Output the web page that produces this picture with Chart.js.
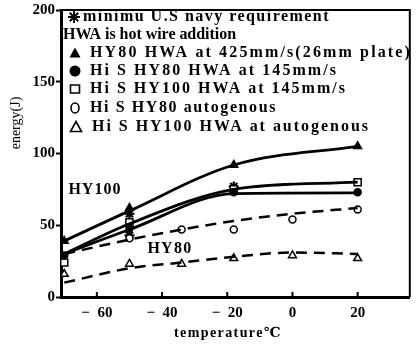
<!DOCTYPE html>
<html>
<head>
<meta charset="utf-8">
<script src="https://cdn.jsdelivr.net/npm/chart.js@4/dist/chart.umd.min.js"></script>
<style>
html, body { margin: 0; padding: 0; background: #fff; }
#wrap { width: 417px; height: 345px; }
</style>
</head>
<body>
<div id="wrap"><canvas id="myChart"></canvas></div>
<script>
const xTicks = [-60, -40, -20, 0, 20];
const yTicks = [0, 50, 100, 150, 200];

// fitted curves drawn in the figure
const hy80Hwa425Curve = [[-71, 38], [-50, 60], [-18, 92], [20, 105]];
const hiSHy80HwaCurve = [[-70, 30], [-50, 47], [-18, 72], [20, 72.5]];
const hiSHy100HwaCurve = [[-70, 30], [-50, 51], [-18, 75], [20, 80]];
const hiSHy80AutoCurve = [[-70, 30], [-50, 40], [-34, 47], [-18, 53], [0, 58], [20, 62]];
const hiSHy100AutoCurve = [[-70, 10], [-50, 20], [-34, 24], [-18, 28], [0, 31], [20, 30]];

// measured points
const hy80Hwa425Points = [[-70, 39], [-50, 62], [-18, 92], [20, 105]];
const hiSHy80HwaPoints = [[-70, 29], [-50, 48], [-18, 73], [20, 73]];
const hiSHy100HwaPoints = [[-70, 24], [-50, 52], [-18, 75], [20, 80]];
const hiSHy80AutoPoints = [[-50, 41], [-34, 47], [-18, 47], [0, 54], [20, 61]];
const hiSHy100AutoPoints = [[-70, 16], [-50, 23], [-34, 23], [-18, 27], [0, 29], [20, 27]];
const navyMinimum = [[-50, 58], [-50, 43], [-18, 77]];

const legendTexts = [
  'minimu U.S navy requirement',
  'HWA is hot wire addition',
  'HY80 HWA at 425mm/s(26mm plate)',
  'Hi S HY80 HWA at 145mm/s',
  'Hi S HY100 HWA at 145mm/s',
  'Hi S HY80 autogenous',
  'Hi S HY100 HWA at autogenous'
];
const curveLabels = [['HY100', -60.6, 74.7], ['HY80', -37.6, 33.6]];

const serif = "'Liberation Serif', 'Times New Roman', 'DejaVu Serif', serif";
const toXY = arr => arr.map(p => ({ x: p[0], y: p[1] }));

function curve(data, dashed) {
  return {
    data: toXY(data),
    borderColor: '#000',
    borderWidth: dashed ? 2.5 : 2.8,
    borderDash: dashed ? [11, 7] : [],
    pointRadius: 0,
    cubicInterpolationMode: 'monotone',
    fill: false
  };
}
function marks(data, style, filled, radius, width) {
  return {
    data: toXY(data),
    showLine: false,
    pointStyle: style,
    pointRadius: radius,
    pointBorderWidth: width || 1.5,
    pointBorderColor: '#000',
    pointBackgroundColor: filled ? '#000' : '#fff'
  };
}

// stretch text to the width it takes in the figure
function fitText(ctx, text, x, y, width) {
  ctx.letterSpacing = '0px';
  const w = ctx.measureText(text).width;
  const sp = (width - w) / Math.max(text.length, 1);
  ctx.letterSpacing = sp + 'px';
  ctx.fillText(text, x, y);
  ctx.letterSpacing = '0px';
}

function drawMarker(ctx, kind, x, y) {
  ctx.save();
  ctx.strokeStyle = '#000';
  ctx.fillStyle = '#000';
  ctx.lineWidth = 1.6;
  ctx.beginPath();
  if (kind === 'star') {
    ctx.lineWidth = 2;
    for (let i = 0; i < 4; i++) {
      const a = i * Math.PI / 4;
      ctx.moveTo(x - 6 * Math.cos(a), y - 6 * Math.sin(a));
      ctx.lineTo(x + 6 * Math.cos(a), y + 6 * Math.sin(a));
    }
    ctx.stroke();
  } else if (kind === 'triFill' || kind === 'tri') {
    ctx.moveTo(x, y - 5.5);
    ctx.lineTo(x + 5.5, y + 4.5);
    ctx.lineTo(x - 5.5, y + 4.5);
    ctx.closePath();
    kind === 'tri' ? ctx.stroke() : ctx.fill();
  } else if (kind === 'dot') {
    ctx.arc(x, y, 5.5, 0, Math.PI * 2);
    ctx.fill();
  } else if (kind === 'circle') {
    ctx.ellipse(x, y, 4, 5, 0, 0, Math.PI * 2);
    ctx.stroke();
  } else if (kind === 'rect') {
    ctx.rect(x - 4.5, y - 4, 9, 8);
    ctx.stroke();
  }
  ctx.restore();
}

const decor = {
  id: 'decor',
  afterDraw(chart) {
    const ctx = chart.ctx;
    const a = chart.chartArea;
    const xs = chart.scales.x, ys = chart.scales.y;
    ctx.save();
    // top and right frame
    ctx.strokeStyle = '#000';
    ctx.lineWidth = 2;
    ctx.beginPath();
    ctx.moveTo(a.left, a.top);
    ctx.lineTo(a.right, a.top);
    ctx.lineTo(a.right, a.bottom);
    ctx.stroke();
    // inward x ticks
    xTicks.forEach(v => {
      const px = xs.getPixelForValue(v);
      ctx.beginPath();
      ctx.moveTo(px, a.bottom);
      ctx.lineTo(px, a.bottom - 5);
      ctx.stroke();
    });

    ctx.fillStyle = '#000';
    ctx.textBaseline = 'middle';
    ctx.textAlign = 'left';
    ctx.font = 'bold 16px ' + serif;
    const rows = [
      ['star', 74, 83, 330, 17],
      [null, 0, 63, 236, 35],
      ['triFill', 75, 90, 412, 53],
      ['dot', 75, 90, 338, 71],
      ['rect', 75, 90, 347, 89],
      ['circle', 75, 90, 277, 108],
      ['tri', 76, 92, 370, 127]
    ];
    rows.forEach((r, i) => {
      if (r[0]) drawMarker(ctx, r[0], r[1], r[4]);
      fitText(ctx, legendTexts[i], r[2], r[4], r[3] - r[2]);
    });

    ctx.font = 'bold 16px ' + serif;
    curveLabels.forEach(l => {
      const w = l[0] === 'HY100' ? 53 : 45;
      const px = xs.getPixelForValue(l[1]) - w / 2;
      fitText(ctx, l[0], px, ys.getPixelForValue(l[2]), w);
    });

    // axis titles
    ctx.font = 'bold 14px ' + serif;
    fitText(ctx, 'temperature℃', 174, 333, 108);
    ctx.translate(16, 123);
    ctx.rotate(-Math.PI / 2);
    ctx.font = '14px ' + serif;
    ctx.textAlign = 'center';
    ctx.fillText('energy(J)', 0, 0);
    ctx.restore();
  }
};

const ctx = document.getElementById('myChart');
new Chart(ctx, {
  type: 'line',
  data: {
    datasets: [
      curve(hy80Hwa425Curve, false),
      curve(hiSHy80HwaCurve, false),
      curve(hiSHy100HwaCurve, false),
      curve(hiSHy80AutoCurve, true),
      curve(hiSHy100AutoCurve, true),
      marks(hy80Hwa425Points, 'triangle', true, 4.5),
      marks(hiSHy80HwaPoints, 'circle', true, 3.5),
      marks(hiSHy100HwaPoints, 'rect', false, 5),
      marks(hiSHy80AutoPoints, 'circle', false, 3.5),
      marks(hiSHy100AutoPoints, 'triangle', false, 4.5),
      marks(navyMinimum, 'star', false, 5, 2.2)
    ]
  },
  options: {
    responsive: true,
    maintainAspectRatio: false,
    animation: false,
    layout: { padding: { top: 5, right: 2, left: 0, bottom: 0 } },
    plugins: { legend: { display: false }, tooltip: { enabled: false } },
    scales: {
      x: {
        type: 'linear',
        min: -71,
        max: 36,
        afterBuildTicks: s => { s.ticks = xTicks.map(v => ({ value: v })); },
        afterFit: s => { s.height = 48; },
        ticks: {
          color: '#000',
          padding: 2,
          font: { family: serif, size: 15, weight: 'bold' },
          callback: v => v < 0 ? '−  ' + Math.abs(v) : String(v)
        },
        grid: { drawOnChartArea: false, tickLength: 5, tickColor: 'rgba(0,0,0,0)' },
        border: { color: '#000', width: 3 }
      },
      y: {
        min: 0,
        max: 200,
        afterBuildTicks: s => { s.ticks = yTicks.map(v => ({ value: v })); },
        afterFit: s => { s.width = 61; },
        ticks: {
          color: '#000',
          padding: 1,
          font: { family: serif, size: 15, weight: 'bold' }
        },
        grid: { drawOnChartArea: false, tickLength: 5, tickColor: '#000', tickWidth: 2 },
        border: { color: '#000', width: 3 }
      }
    }
  },
  plugins: [decor]
});
</script>
</body>
</html>
